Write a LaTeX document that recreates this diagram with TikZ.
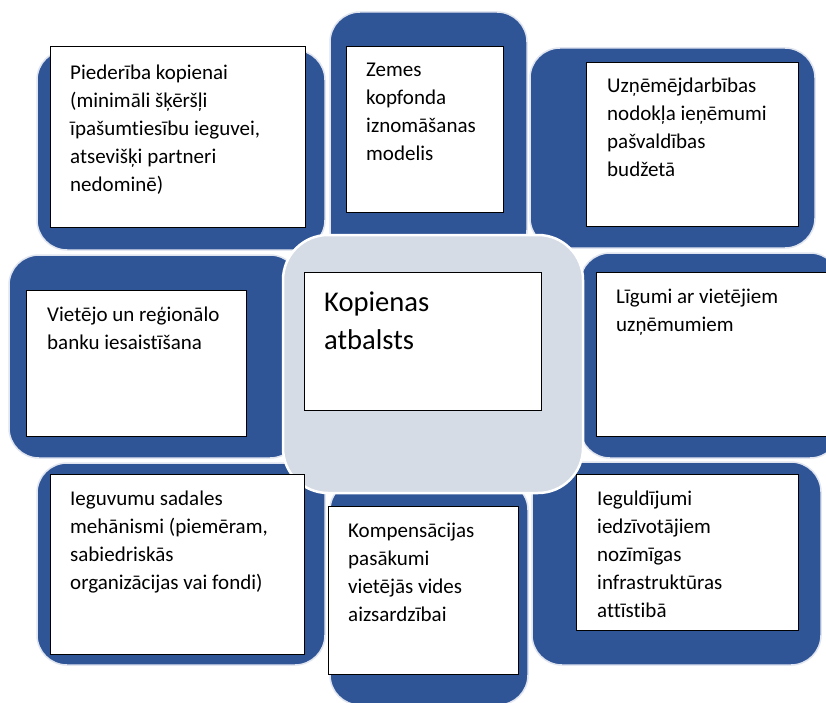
\documentclass[tikz,border=0pt]{standalone}
\usepackage{fontspec}
\setmainfont[Ligatures={NoCommon}]{Carlito}
\definecolor{dblue}{HTML}{2F5597}
\definecolor{cgray}{HTML}{D6DCE5}
\newcommand{\tb}[1]{\parbox[t]{300pt}{\fontsize{21}{28}\selectfont\raggedright #1}}
\newcommand{\tbig}[1]{\parbox[t]{300pt}{\fontsize{28.6}{38}\selectfont\raggedright #1}}
\begin{document}
\begin{tikzpicture}[x=1pt,y=-1pt,
  bluebox/.style={fill=dblue, draw=white!85!dblue, line width=1.5pt, rounded corners=30pt},
  graybox/.style={fill=cgray, draw=white, line width=2.5pt, rounded corners=45pt},
  wbox/.style={fill=white, draw=black, line width=1.1pt, anchor=north west, inner sep=0pt},
  txt/.style={anchor=base west, inner sep=0pt}
]
\useasboundingbox[fill=white] (0,0) rectangle (826,703);

% blue background shapes
\draw[bluebox] (37,50) rectangle (325,250);
\draw[bluebox] (330,12) rectangle (527,260);
\draw[bluebox] (530,48) rectangle (815,248);
\draw[bluebox] (9,255) rectangle (300,458);
\draw[bluebox] (580,253) rectangle (840,458);
\draw[bluebox] (37,463) rectangle (325,665);
\draw[bluebox] (330,480) rectangle (528,705);
\draw[bluebox] (532,462) rectangle (821,665);

% central grey
\draw[graybox] (283,235) rectangle (583,493);

% white boxes
\node[wbox, minimum width=255pt, minimum height=181pt] (w1) at (50,46) {};
\node[wbox, minimum width=157pt, minimum height=166pt] (w2) at (346,46) {};
\node[wbox, minimum width=212pt, minimum height=164pt] (w3) at (586,62) {};
\node[wbox, minimum width=220pt, minimum height=146pt] (w4) at (26,290) {};
\node[wbox, minimum width=237pt, minimum height=138pt] (w5) at (304,272) {};
\node[wbox, minimum width=240pt, minimum height=164pt] (w6) at (596,272) {};
\node[wbox, minimum width=254pt, minimum height=180pt] (w7) at (50,474) {};
\node[wbox, minimum width=190pt, minimum height=168pt] (w8) at (328,506) {};
\node[wbox, minimum width=222pt, minimum height=156pt] (w9) at (576,474) {};

% texts
\node[txt] (t1) at (70,80) {\tb{Piederība kopienai\\(minimāli šķēršļi\\īpašumtiesību ieguvei,\\atsevišķi partneri\\nedominē)}};
\node[txt] (t2) at (366,77) {\tb{Zemes\\kopfonda\\iznomāšanas\\modelis}};
\node[txt] (t3) at (607,93) {\tb{Uzņēmējdarbības\\nodokļa ieņēmumi\\pašvaldības\\budžetā}};
\node[txt] (t4) at (47,321) {\tb{Vietējo un reģionālo\\banku iesaistīšana}};
\node[txt] (t5) at (324,311) {\tbig{Kopienas\\atbalsts}};
\node[txt] (t6) at (616,303) {\tb{Līgumi ar vietējiem\\uzņēmumiem}};
\node[txt] (t7) at (70,505) {\tb{Ieguvumu sadales\\mehānismi (piemēram,\\sabiedriskās\\organizācijas vai fondi)}};
\node[txt] (t8) at (348,537) {\tb{Kompensācijas\\pasākumi\\vietējās vides\\aizsardzībai}};
\node[txt] (t9) at (597,505) {\tb{Ieguldījumi\\iedzīvotājiem\\nozīmīgas\\infrastruktūras\\attīstibā}};
\end{tikzpicture}
\end{document}
